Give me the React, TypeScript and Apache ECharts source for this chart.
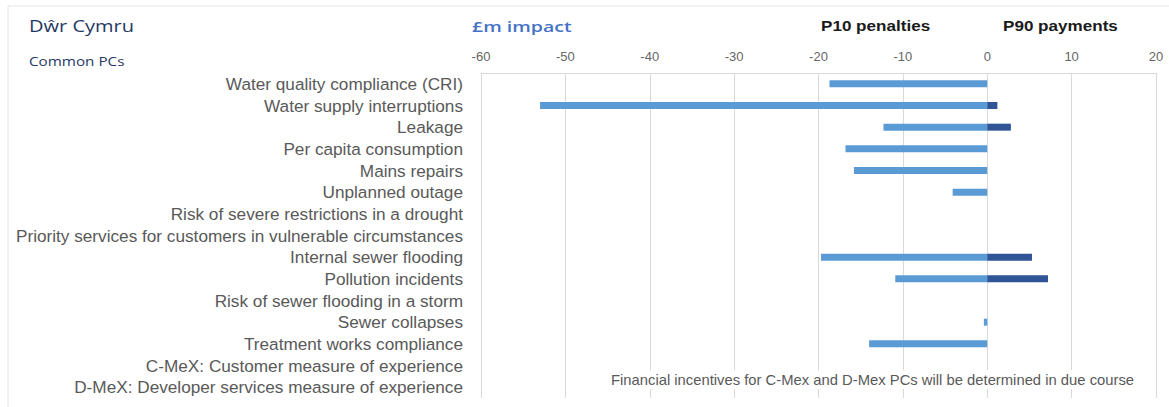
import React, { useEffect, useRef } from "react";
import * as echarts from "echarts";

const categories = [
  "Water quality compliance (CRI)",
  "Water supply interruptions",
  "Leakage",
  "Per capita consumption",
  "Mains repairs",
  "Unplanned outage",
  "Risk of severe restrictions in a drought",
  "Priority services for customers in vulnerable circumstances",
  "Internal sewer flooding",
  "Pollution incidents",
  "Risk of sewer flooding in a storm",
  "Sewer collapses",
  "Treatment works compliance",
  "C-MeX: Customer measure of experience",
  "D-MeX: Developer services measure of experience",
];

const p10Penalties: (number | null)[] = [
  -18.7, -53, -12.3, -16.8, -15.8, -4.1, null, null, -19.7, -10.9, null, -0.4, -14.0, null, null,
];

const p90Payments: (number | null)[] = [
  null, 1.2, 2.8, null, null, null, null, null, 5.3, 7.2, null, null, null, null, null,
];

const xTicks = { min: -60, max: 20, interval: 10 };

const noteText = "Financial incentives for C-Mex and D-Mex PCs will be determined in due course";

export default function App() {
  const ref = useRef<HTMLDivElement>(null);
  useEffect(() => {
    if (!ref.current) return;
    const chart = echarts.init(ref.current, undefined, { renderer: "svg" });
    const font = "'Liberation Sans', Arial, sans-serif";
    const titleFont = "'Open Sans', sans-serif";
    chart.setOption({
      animation: false,
      backgroundColor: "#ffffff",
      grid: { left: 481, right: 13, top: 73, bottom: 9, containLabel: false },
      xAxis: {
        type: "value",
        position: "top",
        min: xTicks.min,
        max: xTicks.max,
        interval: xTicks.interval,
        axisLine: { show: true, lineStyle: { color: "#d9d9d9" } },
        axisTick: { show: false },
        axisLabel: { color: "#666666", fontSize: 13, fontFamily: font, margin: 10 },
        splitLine: { show: true, lineStyle: { color: "#d9d9d9", width: 1 } },
      },
      yAxis: {
        type: "category",
        inverse: true,
        data: categories,
        axisLine: { show: false },
        axisTick: { show: false },
        axisLabel: { color: "#595959", fontSize: 17.2, fontFamily: font, margin: 18, interval: 0 },
        splitLine: { show: false },
      },
      series: [
        {
          name: "P10 penalties",
          type: "bar",
          data: p10Penalties,
          barWidth: 7,
          barGap: "-100%",
          itemStyle: { color: "#5b9bd5" },
        },
        {
          name: "P90 payments",
          type: "bar",
          data: p90Payments,
          barWidth: 7,
          barGap: "-100%",
          itemStyle: { color: "#2f5597" },
        },
      ],
      graphic: [
        {
          type: "rect",
          shape: { x: 8, y: 6, width: 1180, height: 420 },
          style: { fill: "none", stroke: "#e6e6e6", lineWidth: 1 },
          silent: true,
          z: -10,
        },
        {
          type: "text",
          x: 29,
          y: 18,
          scaleX: 1.25,
          style: { text: "Dŵr Cymru", font: "500 16px " + titleFont, fill: "#1f3864", align: "left", verticalAlign: "top" },
        },
        {
          type: "text",
          x: 29,
          y: 55,
          scaleX: 1.27,
          style: { text: "Common PCs", font: "500 12px " + titleFont, fill: "#1f3864", align: "left", verticalAlign: "top" },
        },
        {
          type: "text",
          x: 472,
          y: 18,
          scaleX: 1.3,
          style: { text: "£m impact", font: "600 15px " + titleFont, fill: "#4472c4", align: "left", verticalAlign: "top" },
        },
        {
          type: "text",
          x: 821,
          y: 19,
          scaleX: 1.22,
          style: { text: "P10 penalties", font: "bold 14px " + font, fill: "#1a1a1a", align: "left", verticalAlign: "top" },
        },
        {
          type: "text",
          x: 1003,
          y: 19,
          scaleX: 1.22,
          style: { text: "P90 payments", font: "bold 14px " + font, fill: "#1a1a1a", align: "left", verticalAlign: "top" },
        },
        {
          type: "text",
          x: 607,
          y: 370,
          z: 10,
          style: {
            text: noteText,
            font: "14.8px " + font,
            fill: "#595959",
            backgroundColor: "#ffffff",
            padding: [2, 4],
            align: "left",
            verticalAlign: "top",
          },
        },
      ],
    });
    return () => chart.dispose();
  }, []);
  return <div ref={ref} style={{ width: 1169, height: 407, position: "absolute", left: 0, top: 0 }} />;
}
